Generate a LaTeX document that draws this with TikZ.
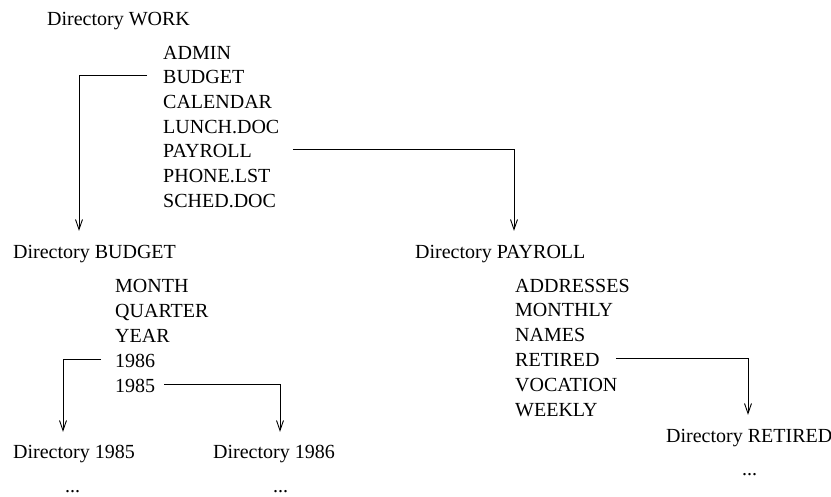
\documentclass[tikz,border=0pt]{standalone}
\usepackage{fontspec}
\setmainfont{Liberation Serif}
\usetikzlibrary{arrows.meta}
\begin{document}
\begin{tikzpicture}[x=1pt,y=-1pt,
  every node/.style={inner sep=0pt, anchor=base west, font=\fontsize{20}{24}\selectfont},
  item/.style={text height=16pt, text depth=0pt},
  dirname/.style={text height=16pt, text depth=0pt},
  conn/.style={line width=0.9pt, -{Straight Barb[length=10pt,width=7pt,line width=0.9pt]}}]
\useasboundingbox (0,0) rectangle (831,496);

% top level directory
\node (work) at (47,25) {Directory WORK};
\foreach \t [count=\i] in {ADMIN,BUDGET,CALENDAR,LUNCH.DOC,PAYROLL,PHONE.LST,SCHED.DOC}
  \node[item] (w\i) at (163,{59+24.67*(\i-1)}) {\t};

% subdirectories of WORK
\node[dirname] (dbudget) at (13,258) {Directory BUDGET};
\node[dirname] (dpayroll) at (415,258) {Directory PAYROLL};

\foreach \t [count=\i] in {MONTH,QUARTER,YEAR,1986,1985}
  \node[item] (b\i) at (115,{292+25*(\i-1)}) {\t};
\foreach \t [count=\i] in {ADDRESSES,MONTHLY,NAMES,RETIRED,VOCATION,WEEKLY}
  \node[item] (p\i) at (515,{292+24.8*(\i-1)}) {\t};

% third level
\node[dirname] (d1985) at (13,458) {Directory 1985};
\node[dirname] (d1986) at (213,458) {Directory 1986};
\node[dirname] (dretired) at (666,442) {Directory RETIRED};
\node (e1985) at (65,492) {...};
\node (e1986) at (273,492) {...};
\node (eretired) at (742,475) {...};

% links from entries to their directories
\draw[conn] ([xshift=-16pt]w2.west) -| ([xshift=66pt,yshift=11pt]dbudget.north west);
\draw[conn] ([xshift=41pt]w5.east) -| ([xshift=99pt,yshift=11pt]dpayroll.north west);
\draw[conn] ([xshift=-14pt]b4.west) -| ([xshift=50pt,yshift=10pt]d1985.north west);
\draw[conn] ([xshift=9pt]b5.east) -| ([xshift=67pt,yshift=10pt]d1986.north west);
\draw[conn] ([xshift=16pt]p4.east) -| ([xshift=82pt,yshift=11pt]dretired.north west);
\end{tikzpicture}
\end{document}
